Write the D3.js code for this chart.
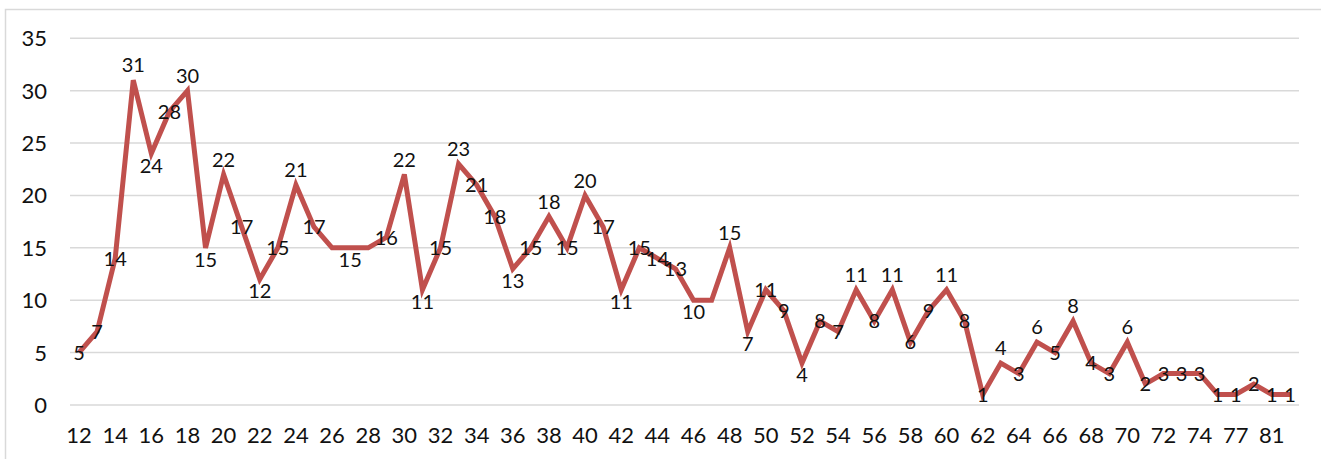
<!DOCTYPE html>
<html>
<head>
<meta charset="utf-8">
<script src="https://d3js.org/d3.v7.min.js"></script>
<style>
    body { margin: 0; background: #fff; }
    svg { display: block; font-family: Lato, "Open Sans", sans-serif; }
    .gridline { stroke: #d9d9d9; stroke-width: 1.5; }
    .axisText { font-size: 22px; fill: #111; }
    .dataLabel { font-size: 20px; fill: #111; }
    .series { fill: none; stroke: #c0504d; stroke-width: 5; stroke-linejoin: miter; }
</style>
</head>
<body>
<div id="chart"></div>
<script>

// categories on the x axis (ages)
var ages = [12, 13, 14, 15, 16, 17, 18, 19, 20, 21, 22, 23, 24, 25, 26, 27, 28, 29, 30, 31,
    32, 33, 34, 35, 36, 37, 38, 39, 40, 41, 42, 43, 44, 45, 46, 47, 48, 49, 50, 51,
    52, 53, 54, 55, 56, 57, 58, 59, 60, 61, 62, 63, 64, 65, 66, 67, 68, 69, 70, 71,
    72, 73, 74, 75, 77, 78, 81, 83];

// count for each category
var counts = [5, 7, 14, 31, 24, 28, 30, 15, 22, 17, 12, 15, 21, 17, 15, 15, 15, 16, 22, 11,
    15, 23, 21, 18, 13, 15, 18, 15, 20, 17, 11, 15, 14, 13, 10, 10, 15, 7, 11, 9,
    4, 8, 7, 11, 8, 11, 6, 9, 11, 8, 1, 4, 3, 6, 5, 8, 4, 3, 6, 2,
    3, 3, 3, 1, 1, 2, 1, 1];

var yTicks = [0, 5, 10, 15, 20, 25, 30, 35];

// where each data label sits; anything not listed sits on the point
var labelsAbove = [15, 18, 20, 24, 30, 33, 38, 40, 48, 55, 57, 60, 63, 65, 67, 70];
var labelsBelow = [16, 19, 22, 27, 31, 36, 42, 46, 49, 52];
var labelsHidden = [26, 28, 47];

var width = 1321, height = 459;

var svg = d3.select("#chart").append("svg")
    .attr("width", width)
    .attr("height", height);

//chart border (top and left edges are the only ones in view)
svg.append("rect")
    .attr("x", 5.5)
    .attr("y", 9.5)
    .attr("width", width + 20)
    .attr("height", height + 20)
    .attr("fill", "none")
    .attr("stroke", "#d9d9d9")
    .attr("stroke-width", 1.5);

var data = ages.map(function (a, i) { return {age: a, value: counts[i]}; });

var xScale = d3.scalePoint()
    .domain(ages)
    .range([70, 1299])
    .padding(0.5);

var yScale = d3.scaleLinear()
    .domain([0, 35])
    .range([405, 38.3]);

//horizontal gridlines
svg.selectAll(".gridline").data(yTicks)
    .enter()
    .append("line")
    .classed("gridline", true)
    .attr("x1", 70)
    .attr("x2", 1299)
    .attr("y1", function (d) { return yScale(d); })
    .attr("y2", function (d) { return yScale(d); });

//y axis labels
svg.selectAll(".yLabel").data(yTicks)
    .enter()
    .append("text")
    .attr("class", "axisText yLabel")
    .attr("x", 47)
    .attr("y", function (d) { return yScale(d); })
    .attr("dy", "0.36em")
    .attr("text-anchor", "end")
    .text(function (d) { return d; });

//x axis labels, every second category
svg.selectAll(".xLabel").data(ages.filter(function (d, i) { return i % 2 == 0; }))
    .enter()
    .append("text")
    .attr("class", "axisText xLabel")
    .attr("x", function (d) { return xScale(d); })
    .attr("y", 435)
    .attr("dy", "0.36em")
    .attr("text-anchor", "middle")
    .text(function (d) { return d; });

var line = d3.line()
    .x(function (d) { return xScale(d.age); })
    .y(function (d) { return yScale(d.value); });

svg.append("path")
    .datum(data)
    .classed("series", true)
    .attr("d", line);

//data labels
svg.selectAll(".dataLabel").data(data.filter(function (d) { return labelsHidden.indexOf(d.age) < 0; }))
    .enter()
    .append("text")
    .classed("dataLabel", true)
    .attr("x", function (d) { return xScale(d.age); })
    .attr("y", function (d) {
        var y = yScale(d.value);
        if (labelsAbove.indexOf(d.age) >= 0) { return y - 15; }
        if (labelsBelow.indexOf(d.age) >= 0) { return y + 12; }
        return y;
    })
    .attr("dy", "0.36em")
    .attr("text-anchor", "middle")
    .text(function (d) { return d.value; });

</script>
</body>
</html>
